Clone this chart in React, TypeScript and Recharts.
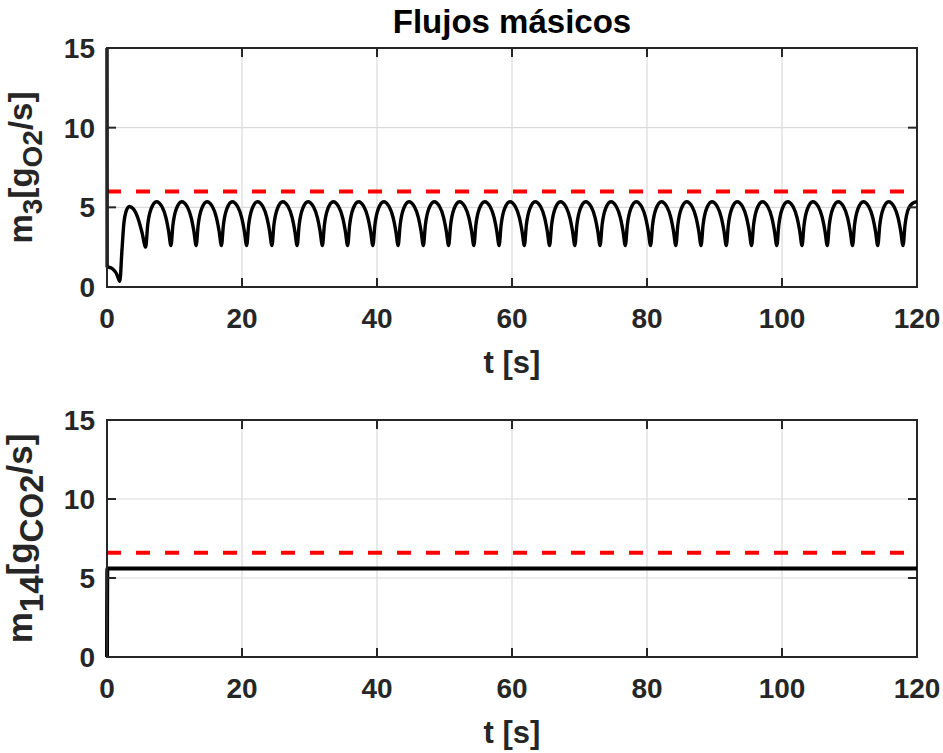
import React from "react";
import {
  LineChart,
  Line,
  XAxis,
  YAxis,
  CartesianGrid,
  ReferenceArea,
  Label,
} from "recharts";

// ---------- data ----------
const xTicks = [0, 20, 40, 60, 80, 100, 120];
const yTicks = [0, 5, 10, 15];
const titleText = "Flujos másicos";
const xLabelText = "t [s]";

// reference (setpoint) levels
const m3Setpoint = 6.0;
const m14Setpoint = 6.6;

// m3 [g_O2/s] : [t, value]
const m3Points: [number, number][] = [
  [0, 15], [0.02, 1.3], [0.8, 1.15], [1.4, 0.85], [1.9, 0.35], [2.2, 2.2], [2.5, 4.0], [2.8, 4.7], [3.3, 5.05], [3.9, 4.9], [4.6, 4.3], [5.2, 3.4],
  [5.73, 2.5], [6.03, 3.9], [6.53, 4.9], [7.33, 5.35], [8.13, 5.05], [8.73, 4.35], [9.13, 3.5],
  [9.47, 2.6], [9.77, 3.9], [10.27, 4.9], [11.07, 5.35], [11.87, 5.05], [12.47, 4.35], [12.87, 3.5],
  [13.21, 2.6], [13.51, 3.9], [14.01, 4.9], [14.81, 5.35], [15.61, 5.05], [16.21, 4.35], [16.61, 3.5],
  [16.95, 2.6], [17.25, 3.9], [17.75, 4.9], [18.55, 5.35], [19.35, 5.05], [19.95, 4.35], [20.35, 3.5],
  [20.69, 2.6], [20.99, 3.9], [21.49, 4.9], [22.29, 5.35], [23.09, 5.05], [23.69, 4.35], [24.09, 3.5],
  [24.43, 2.6], [24.73, 3.9], [25.23, 4.9], [26.03, 5.35], [26.83, 5.05], [27.43, 4.35], [27.83, 3.5],
  [28.17, 2.6], [28.47, 3.9], [28.97, 4.9], [29.77, 5.35], [30.57, 5.05], [31.17, 4.35], [31.57, 3.5],
  [31.91, 2.6], [32.21, 3.9], [32.71, 4.9], [33.51, 5.35], [34.31, 5.05], [34.91, 4.35], [35.31, 3.5],
  [35.65, 2.6], [35.95, 3.9], [36.45, 4.9], [37.25, 5.35], [38.05, 5.05], [38.65, 4.35], [39.05, 3.5],
  [39.39, 2.6], [39.69, 3.9], [40.19, 4.9], [40.99, 5.35], [41.79, 5.05], [42.39, 4.35], [42.79, 3.5],
  [43.13, 2.6], [43.43, 3.9], [43.93, 4.9], [44.73, 5.35], [45.53, 5.05], [46.13, 4.35], [46.53, 3.5],
  [46.87, 2.6], [47.17, 3.9], [47.67, 4.9], [48.47, 5.35], [49.27, 5.05], [49.87, 4.35], [50.27, 3.5],
  [50.61, 2.6], [50.91, 3.9], [51.41, 4.9], [52.21, 5.35], [53.01, 5.05], [53.61, 4.35], [54.01, 3.5],
  [54.35, 2.6], [54.65, 3.9], [55.15, 4.9], [55.95, 5.35], [56.75, 5.05], [57.35, 4.35], [57.75, 3.5],
  [58.09, 2.6], [58.39, 3.9], [58.89, 4.9], [59.69, 5.35], [60.49, 5.05], [61.09, 4.35], [61.49, 3.5],
  [61.83, 2.6], [62.13, 3.9], [62.63, 4.9], [63.43, 5.35], [64.23, 5.05], [64.83, 4.35], [65.23, 3.5],
  [65.57, 2.6], [65.87, 3.9], [66.37, 4.9], [67.17, 5.35], [67.97, 5.05], [68.57, 4.35], [68.97, 3.5],
  [69.31, 2.6], [69.61, 3.9], [70.11, 4.9], [70.91, 5.35], [71.71, 5.05], [72.31, 4.35], [72.71, 3.5],
  [73.05, 2.6], [73.35, 3.9], [73.85, 4.9], [74.65, 5.35], [75.45, 5.05], [76.05, 4.35], [76.45, 3.5],
  [76.79, 2.6], [77.09, 3.9], [77.59, 4.9], [78.39, 5.35], [79.19, 5.05], [79.79, 4.35], [80.19, 3.5],
  [80.53, 2.6], [80.83, 3.9], [81.33, 4.9], [82.13, 5.35], [82.93, 5.05], [83.53, 4.35], [83.93, 3.5],
  [84.27, 2.6], [84.57, 3.9], [85.07, 4.9], [85.87, 5.35], [86.67, 5.05], [87.27, 4.35], [87.67, 3.5],
  [88.01, 2.6], [88.31, 3.9], [88.81, 4.9], [89.61, 5.35], [90.41, 5.05], [91.01, 4.35], [91.41, 3.5],
  [91.75, 2.6], [92.05, 3.9], [92.55, 4.9], [93.35, 5.35], [94.15, 5.05], [94.75, 4.35], [95.15, 3.5],
  [95.49, 2.6], [95.79, 3.9], [96.29, 4.9], [97.09, 5.35], [97.89, 5.05], [98.49, 4.35], [98.89, 3.5],
  [99.23, 2.6], [99.53, 3.9], [100.03, 4.9], [100.83, 5.35], [101.63, 5.05], [102.23, 4.35], [102.63, 3.5],
  [102.97, 2.6], [103.27, 3.9], [103.77, 4.9], [104.57, 5.35], [105.37, 5.05], [105.97, 4.35], [106.37, 3.5],
  [106.71, 2.6], [107.01, 3.9], [107.51, 4.9], [108.31, 5.35], [109.11, 5.05], [109.71, 4.35], [110.11, 3.5],
  [110.45, 2.6], [110.75, 3.9], [111.25, 4.9], [112.05, 5.35], [112.85, 5.05], [113.45, 4.35], [113.85, 3.5],
  [114.19, 2.6], [114.49, 3.9], [114.99, 4.9], [115.79, 5.35], [116.59, 5.05], [117.19, 4.35], [117.59, 3.5],
  [117.93, 2.6], [118.23, 3.9], [118.73, 4.9], [119.53, 5.3], [120, 5.35],
];

// m14 [g_CO2/s] : [t, value]
const m14Points: [number, number][] = [
  [0, 0], [0.05, 5.6], [20, 5.6], [40, 5.6], [60, 5.6], [80, 5.6], [100, 5.6], [120, 5.6],
];

const m3Data = m3Points.map(([t, v]) => ({ t, v }));
const m14Data = m14Points.map(([t, v]) => ({ t, v }));
const m3RefData = [{ t: 0, v: m3Setpoint }, { t: 120, v: m3Setpoint }];
const m14RefData = [{ t: 0, v: m14Setpoint }, { t: 120, v: m14Setpoint }];

// ---------- layout / style ----------
const FONT = "'Liberation Sans', Arial, Helvetica, sans-serif";
const INK = "#262626";
const W = 943;
const PLOT_L = 107;
const PLOT_R = 917;
const TICK_LEN = 9;
const TICK_FS = 28;
const LABEL_FS = 31;

function makeXTick(top: number, bottom: number) {
  return (props: any) => {
    const { x, y, payload } = props;
    return (
      <g>
        <line x1={x} x2={x} y1={bottom} y2={bottom - TICK_LEN} stroke={INK} strokeWidth={2} />
        <line x1={x} x2={x} y1={top} y2={top + TICK_LEN} stroke={INK} strokeWidth={2} />
        <text x={x} y={y} dy="0.71em" textAnchor="middle" fontFamily={FONT} fontWeight="bold" fontSize={TICK_FS} fill={INK}>
          {payload.value}
        </text>
      </g>
    );
  };
}

function makeYTick() {
  return (props: any) => {
    const { x, y, payload } = props;
    return (
      <g>
        <line x1={PLOT_L} x2={PLOT_L + TICK_LEN} y1={y} y2={y} stroke={INK} strokeWidth={2} />
        <line x1={PLOT_R} x2={PLOT_R - TICK_LEN} y1={y} y2={y} stroke={INK} strokeWidth={2} />
        <text x={x} y={y} dy="0.355em" textAnchor="end" fontFamily={FONT} fontWeight="bold" fontSize={TICK_FS} fill={INK}>
          {payload.value}
        </text>
      </g>
    );
  };
}

type YLab = { main: string; sub1: string; sub2: string; mainFs: number; subFs: number; shift: number };

function YLabel({ cy, lab }: { cy: number; lab: YLab }) {
  const cx = 32;
  return (
    <text
      x={cx}
      y={cy}
      transform={`rotate(-90, ${cx}, ${cy})`}
      textAnchor="middle"
      fontFamily={FONT}
      fontWeight="bold"
      fontSize={lab.mainFs}
      fill={INK}
    >
      <tspan>{lab.main}</tspan>
      <tspan fontSize={lab.subFs} dy={lab.shift}>{lab.sub1}</tspan>
      <tspan dy={-lab.shift}>[g</tspan>
      <tspan fontSize={lab.subFs} dy={lab.shift}>{lab.sub2}</tspan>
      <tspan dy={-lab.shift}>/s]</tspan>
    </text>
  );
}

function XLabel({ baseline }: { baseline: number }) {
  return (
    <text x={(PLOT_L + PLOT_R) / 2} y={baseline} textAnchor="middle" fontFamily={FONT} fontWeight="bold" fontSize={LABEL_FS} fill={INK}>
      {xLabelText}
    </text>
  );
}

function Panel({
  height, top, xAxisH, data, refData, ylab, lineW,
}: {
  height: number; top: number; xAxisH: number; data: any[]; refData: any[]; ylab: YLab; lineW: number;
}) {
  const bottom = height - xAxisH;
  return (
    <LineChart width={W} height={height} margin={{ top, right: W - PLOT_R, bottom: 0, left: 0 }}>
      <CartesianGrid stroke="#dadada" strokeWidth={1.2} horizontalValues={yTicks} verticalValues={xTicks} />
      <XAxis
        dataKey="t"
        type="number"
        domain={[0, 120]}
        ticks={xTicks}
        height={xAxisH}
        tickSize={0}
        tickMargin={21}
        tickLine={false}
        axisLine={{ stroke: INK, strokeWidth: 2 }}
        tick={makeXTick(top, bottom)}
        interval={0}
      >
        <Label content={() => <XLabel baseline={bottom + 86} />} />
      </XAxis>
      <YAxis
        type="number"
        domain={[0, 15]}
        ticks={yTicks}
        width={PLOT_L}
        tickSize={0}
        tickMargin={12}
        tickLine={false}
        axisLine={{ stroke: INK, strokeWidth: 2 }}
        tick={makeYTick()}
        interval={0}
      >
        <Label content={() => <YLabel cy={(top + bottom) / 2} lab={ylab} />} />
      </YAxis>
      <ReferenceArea x1={0} x2={120} y1={0} y2={15} fill="none" stroke={INK} strokeWidth={2} />
      <Line
        data={refData}
        dataKey="v"
        type="linear"
        stroke="#ff0000"
        strokeWidth={4}
        strokeDasharray="14 15"
        dot={false}
        activeDot={false}
        isAnimationActive={false}
      />
      <Line
        data={data}
        dataKey="v"
        type="monotone"
        stroke="#000000"
        strokeWidth={lineW}
        dot={false}
        activeDot={false}
        isAnimationActive={false}
      />
    </LineChart>
  );
}

export default function App() {
  return (
    <div style={{ position: "absolute", left: 0, top: 0, width: W, height: 753, background: "#fff" }}>
      <svg width={W} height={48} style={{ position: "absolute", left: 0, top: 0 }}>
        <text x={(PLOT_L + PLOT_R) / 2} y={33} textAnchor="middle" fontFamily={FONT} fontWeight="bold" fontSize={33} fill="#000">
          {titleText}
        </text>
      </svg>
      <div style={{ position: "absolute", left: 0, top: 376 }}>
        <Panel
          height={377}
          top={44}
          xAxisH={96}
          data={m14Data}
          refData={m14RefData}
          lineW={4}
          ylab={{ main: "m", sub1: "14", sub2: "CO2", mainFs: 35, subFs: 33, shift: 11 }}
        />
      </div>
      <div style={{ position: "absolute", left: 0, top: 0 }}>
        <Panel
          height={400}
          top={48}
          xAxisH={113}
          data={m3Data}
          refData={m3RefData}
          lineW={3.4}
          ylab={{ main: "m", sub1: "3", sub2: "O2", mainFs: 33, subFs: 28, shift: 10 }}
        />
      </div>
    </div>
  );
}
